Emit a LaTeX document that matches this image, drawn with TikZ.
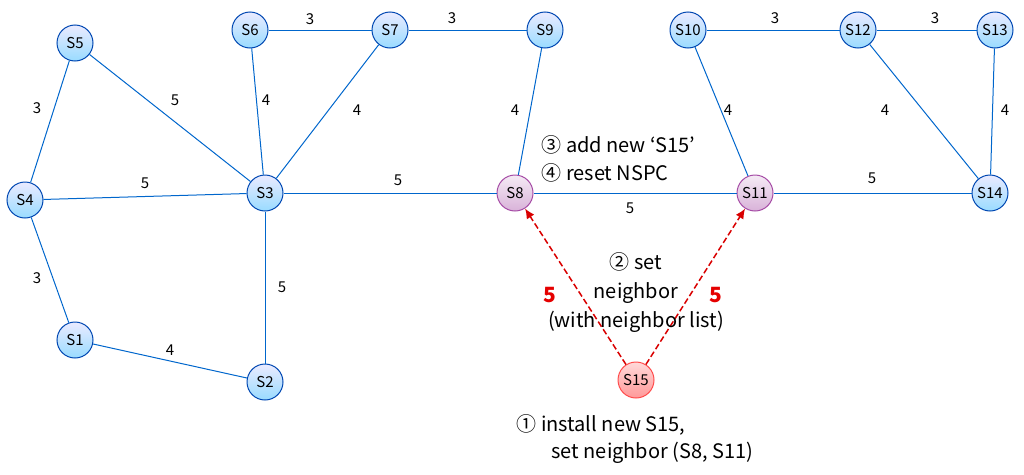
\documentclass[tikz,border=0pt]{standalone}
\usepackage{fontspec}
\setmainfont{Noto Sans CJK KR}
\usetikzlibrary{arrows.meta}
\begin{document}
\begin{tikzpicture}[x=1pt,y=-1pt,
 nd/.style={circle,minimum size=36pt,inner sep=0pt,draw=blue!60!cyan!70!black,line width=1pt,top color=blue!8,bottom color=blue!35!cyan!40,font=\fontsize{15}{15}\selectfont},
 pu/.style={nd,draw=violet!70,top color=violet!8,bottom color=violet!30},
 rd/.style={nd,draw=red!70,top color=red!15,bottom color=red!40},
 ed/.style={draw=blue!50!cyan!80!black,line width=1pt},
 lb/.style={font=\fontsize{15}{15}\selectfont},
 tx/.style={font=\fontsize{20}{29}\selectfont},
 rl/.style={font=\bfseries\fontsize{21}{21}\selectfont,text=red!90!black},
 da/.style={draw=red!85!black,line width=1.5pt,dash pattern=on 6pt off 3pt,-{Latex[length=10pt,width=9pt]}}]
\useasboundingbox (0,0) rectangle (1024,474);
\node[nd] (S5) at (75,43) {S5};
\node[nd] (S6) at (250,30) {S6};
\node[nd] (S7) at (390,30) {S7};
\node[nd] (S9) at (545,30) {S9};
\node[nd] (S10) at (688,30) {S10};
\node[nd] (S12) at (858,30) {S12};
\node[nd] (S13) at (995,30) {S13};
\node[nd] (S4) at (25,200) {S4};
\node[nd] (S3) at (265,193) {S3};
\node[pu] (S8) at (515,193) {S8};
\node[pu] (S11) at (755,193) {S11};
\node[nd] (S14) at (990,193) {S14};
\node[nd] (S1) at (75,340) {S1};
\node[nd] (S2) at (265,382) {S2};
\node[rd] (S15) at (636,380) {S15};
\draw[ed] (S4)--(S5); \draw[ed] (S5)--(S3); \draw[ed] (S6)--(S3); \draw[ed] (S7)--(S3);
\draw[ed] (S6)--(S7); \draw[ed] (S7)--(S9); \draw[ed] (S9)--(S8); \draw[ed] (S4)--(S3);
\draw[ed] (S3)--(S8); \draw[ed] (S8)--(S11); \draw[ed] (S10)--(S11); \draw[ed] (S10)--(S12);
\draw[ed] (S12)--(S13); \draw[ed] (S12)--(S14); \draw[ed] (S13)--(S14); \draw[ed] (S11)--(S14);
\draw[ed] (S4)--(S1); \draw[ed] (S3)--(S2); \draw[ed] (S1)--(S2);
\node[lb] (l1) at (37,108) {3}; \node[lb] (l2) at (175,100) {5}; \node[lb] (l3) at (266,100) {4};
\node[lb] (l4) at (357,110) {4}; \node[lb] (l5) at (310,19) {3}; \node[lb] (l6) at (452,18) {3};
\node[lb] (l7) at (515,110) {4}; \node[lb] (l8) at (145,183) {5}; \node[lb] (l9) at (398,180) {5};
\node[lb] (l10) at (630,208) {5}; \node[lb] (l11) at (728,110) {4}; \node[lb] (l12) at (775,18) {3};
\node[lb] (l13) at (935,18) {3}; \node[lb] (l14) at (885,110) {4}; \node[lb] (l15) at (1005,110) {4};
\node[lb] (l16) at (872,178) {5}; \node[lb] (l17) at (37,278) {3}; \node[lb] (l18) at (282,287) {5};
\node[lb] (l19) at (170,350) {4};
\draw[da] (S15)--(S8); \draw[da] (S15)--(S11);
\node[rl] (r1) at (550,295) {5}; \node[rl] (r2) at (716,295) {5};
\node[tx,anchor=west] (t3) at (538,145) {③ add new ‘S15’};
\node[tx,anchor=west] (t4) at (538,173) {④ reset NSPC};
\node[tx,align=center] (t2) at (636,293) {② set\\neighbor\\(with neighbor list)};
\node[tx,anchor=west] (t1a) at (513,425) {① install new S15,};
\node[tx,anchor=west] (t1b) at (548,453) {set neighbor (S8, S11)};
\end{tikzpicture}
\end{document}
